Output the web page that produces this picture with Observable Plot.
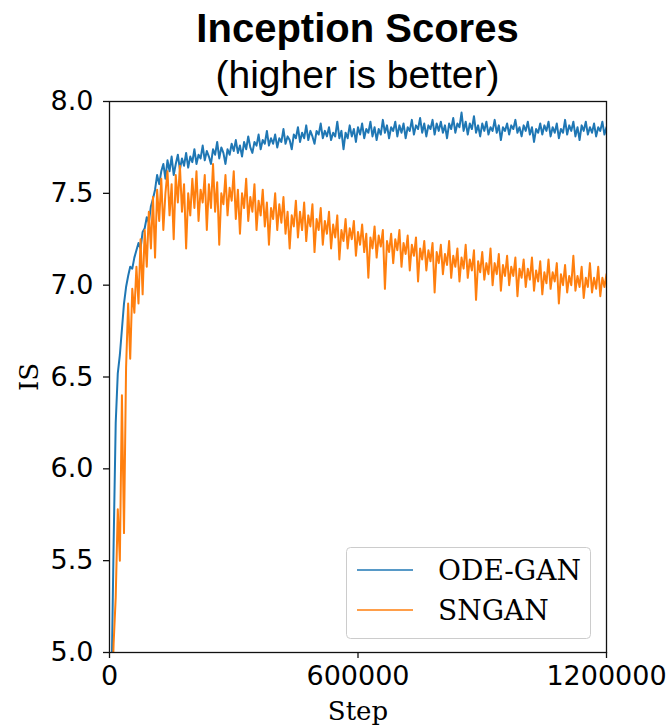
<!DOCTYPE html>
<html>
<head>
<meta charset="utf-8">
<script src="https://cdn.jsdelivr.net/npm/d3@7"></script>
<script src="https://cdn.jsdelivr.net/npm/@observablehq/plot@0.6"></script>
<style>
  html, body { margin: 0; padding: 0; background: #fff; }
  #page { position: relative; width: 669px; height: 725px; overflow: hidden; background: #fff; }
  #titles { position: relative; width: 669px; height: 88px; }
  .t { position: absolute; left: 46px; width: 623px; text-align: center; font-family: "Liberation Sans", Arial, sans-serif; line-height: 1; color: #000; white-space: nowrap; }
  #t1 { top: 8px; font-size: 40px; font-weight: bold; }
  #t2 { top: 55px; font-size: 39px; }
  #chart svg { display: block; }
  #legend { position: absolute; left: 346px; top: 547px; }
</style>
</head>
<body>
<div id="page">
  <div id="titles">
    <div class="t" id="t1"></div>
    <div class="t" id="t2"></div>
  </div>
  <div id="chart"></div>
  <div id="legend"></div>
</div>
<script>
// ---- Data ----
const titleText = "Inception Scores";
const subtitleText = "(higher is better)";
const xLabel = "Step";
const yLabel = "IS";
const seriesNames = ["ODE-GAN", "SNGAN"];
const seriesColors = ["#1f77b4", "#ff7f0e"];
const stepInterval = 5000; // evaluation every 5000 steps, first at 5000
const xTicks = [0, 600000, 1200000];
const yTicks = [5.0, 5.5, 6.0, 6.5, 7.0, 7.5, 8.0];

const odeGan = [
  4.85, 5.6, 6.25, 6.52, 6.62, 6.76, 6.9, 6.99, 7.05, 7.1,
  7.09, 7.15, 7.19, 7.23, 7.2, 7.29, 7.31, 7.37, 7.34, 7.43,
  7.47, 7.52, 7.6, 7.55, 7.62, 7.66, 7.58, 7.68, 7.62, 7.7,
  7.6, 7.66, 7.71, 7.63, 7.69, 7.65, 7.72, 7.64, 7.7, 7.67,
  7.74, 7.66, 7.71, 7.69, 7.76, 7.68, 7.73, 7.7, 7.66, 7.74,
  7.71, 7.78, 7.69, 7.75, 7.72, 7.66, 7.74, 7.71, 7.77, 7.73,
  7.79, 7.72, 7.76, 7.7, 7.78, 7.74, 7.81, 7.75, 7.72, 7.78,
  7.76, 7.82, 7.74, 7.79, 7.77, 7.84, 7.76, 7.8, 7.77, 7.82,
  7.75, 7.8, 7.78, 7.85, 7.77, 7.81, 7.79, 7.74, 7.82, 7.8,
  7.86, 7.78, 7.83, 7.8, 7.87, 7.79, 7.84, 7.81, 7.77, 7.84,
  7.82, 7.88, 7.8, 7.84, 7.81, 7.86, 7.79, 7.83, 7.81, 7.89,
  7.8, 7.84, 7.74, 7.83, 7.8, 7.87, 7.81, 7.85, 7.78, 7.86,
  7.82, 7.88, 7.8, 7.85, 7.83, 7.89, 7.81, 7.86, 7.79, 7.85,
  7.82, 7.9, 7.83, 7.87, 7.8, 7.86, 7.84, 7.89, 7.81, 7.87,
  7.83, 7.88, 7.8, 7.86, 7.84, 7.9, 7.82, 7.87, 7.85, 7.91,
  7.83, 7.88, 7.81, 7.87, 7.85, 7.9, 7.82, 7.88, 7.84, 7.89,
  7.83, 7.87, 7.8, 7.88, 7.85, 7.91, 7.83, 7.88, 7.86, 7.94,
  7.84, 7.89, 7.82, 7.88, 7.85, 7.92, 7.83, 7.87, 7.81, 7.88,
  7.84, 7.89, 7.82, 7.86, 7.84, 7.9, 7.83, 7.87, 7.79, 7.86,
  7.84, 7.88, 7.82, 7.87, 7.85, 7.9, 7.83, 7.86, 7.81, 7.87,
  7.84, 7.89, 7.82, 7.86, 7.78, 7.85, 7.83, 7.88, 7.82, 7.87,
  7.84, 7.89, 7.81, 7.86, 7.83, 7.88, 7.8, 7.85, 7.83, 7.9,
  7.82, 7.87, 7.84, 7.89, 7.81, 7.86, 7.79, 7.87, 7.84, 7.89,
  7.82, 7.86, 7.83, 7.88, 7.81, 7.86, 7.84, 7.89, 7.82, 7.86
];

const sngan = [
  4.7, 5.05, 5.3, 5.78, 5.5, 6.4, 5.65, 6.55, 6.9, 6.6,
  6.98, 6.85, 7.1, 6.9, 7.25, 6.95, 7.3, 7.1, 7.4, 7.2,
  7.48, 7.15, 7.52, 7.35, 7.58, 7.3, 7.5, 7.62, 7.38, 7.55,
  7.25, 7.6, 7.45, 7.65, 7.4, 7.55, 7.2, 7.5, 7.38, 7.58,
  7.42, 7.62, 7.35, 7.52, 7.45, 7.6, 7.3, 7.55, 7.42, 7.66,
  7.4, 7.56, 7.22, 7.5, 7.44, 7.6, 7.38, 7.53, 7.46, 7.62,
  7.36, 7.52, 7.28, 7.5, 7.42, 7.58, 7.35, 7.48, 7.4, 7.55,
  7.3, 7.46, 7.38, 7.52, 7.32, 7.45, 7.22, 7.42, 7.36, 7.5,
  7.3, 7.44, 7.34, 7.48, 7.28, 7.4, 7.2, 7.38, 7.32, 7.46,
  7.26, 7.4, 7.3, 7.45, 7.24, 7.38, 7.32, 7.44, 7.18, 7.36,
  7.3, 7.42, 7.22, 7.35, 7.28, 7.4, 7.2, 7.33, 7.26, 7.38,
  7.14, 7.3, 7.24, 7.36, 7.2, 7.31, 7.25, 7.35, 7.16, 7.29,
  7.22, 7.33, 7.18, 7.28, 7.04, 7.26, 7.2, 7.32, 7.15, 7.27,
  7.21, 7.3, 6.98, 7.24, 7.18, 7.28, 7.12, 7.25, 7.19, 7.3,
  7.1, 7.23, 7.17, 7.27, 7.08, 7.22, 7.16, 7.26, 7.02, 7.2,
  7.14, 7.24, 7.08, 7.19, 7.13, 7.23, 6.96, 7.18, 7.12, 7.22,
  7.06, 7.17, 7.11, 7.24, 7.04, 7.16, 7.1, 7.2, 7.02, 7.15,
  7.09, 7.22, 7.04, 7.14, 7.08, 7.19, 6.92, 7.13, 7.07, 7.18,
  7.03, 7.12, 7.06, 7.2, 7.0, 7.12, 7.06, 7.17, 6.97, 7.11,
  7.05, 7.16, 7.0, 7.1, 7.05, 7.15, 6.94, 7.09, 7.04, 7.14,
  6.99, 7.09, 7.03, 7.15, 6.97, 7.08, 7.02, 7.13, 6.95, 7.07,
  7.01, 7.14, 6.98, 7.07, 7.02, 7.12, 6.9, 7.06, 7.0, 7.11,
  6.96, 7.05, 7.0, 7.16, 6.97, 7.05, 6.99, 7.1, 6.93, 7.04,
  6.99, 7.12, 6.96, 7.04, 6.98, 7.1, 6.94, 7.04, 6.99, 7.06
];

// ---- Build tidy table ----
const seriesValues = [odeGan, sngan];
const rows = [];
seriesValues.forEach((vals, k) => {
  vals.forEach((v, i) => rows.push({ model: seriesNames[k], step: stepInterval * (i + 1), is: v }));
});

// ---- Titles ----
document.getElementById("t1").textContent = titleText;
document.getElementById("t2").textContent = subtitleText;

// ---- Chart ----
const serif = "'DejaVu Serif', serif";
const chart = Plot.plot({
  width: 669,
  height: 637,
  marginTop: 13,
  marginLeft: 109,
  marginRight: 63,
  marginBottom: 73,
  style: { fontFamily: "'DejaVu Sans', sans-serif", fontSize: "27px", color: "#000", background: "#fff", overflow: "visible" },
  x: { domain: [0, 1200000] },
  y: { domain: [5, 8] },
  color: { domain: seriesNames, range: seriesColors },
  marks: [
    Plot.line(rows, { x: "step", y: "is", z: "model", stroke: "model", strokeWidth: 2, clip: true }),
    Plot.frame({ stroke: "#111", strokeWidth: 1.3 }),
    Plot.axisX({ anchor: "bottom", ticks: xTicks, tickFormat: d3.format("d"), tickSize: 6, tickPadding: 7, label: null, stroke: "#111", strokeWidth: 1.3 }),
    Plot.axisY({ anchor: "left", ticks: yTicks, tickFormat: d3.format(".1f"), tickSize: 6, tickPadding: 10, label: null, stroke: "#111", strokeWidth: 1.3 }),
    Plot.text([yLabel], { text: d => d, frameAnchor: "left", dx: -80, rotate: -90, textAnchor: "middle", lineAnchor: "middle", fontFamily: serif, fontSize: 26, fill: "#000" }),
    Plot.text([xLabel], { text: d => d, frameAnchor: "bottom", dy: 59, textAnchor: "middle", lineAnchor: "middle", fontFamily: serif, fontSize: 26, fill: "#000" })
  ]
});
document.getElementById("chart").appendChild(chart);

// ---- Legend ----
const lg = d3.select("#legend").append("svg").attr("width", 246).attr("height", 93);
lg.append("rect").attr("x", 0.5).attr("y", 0.5).attr("width", 244).attr("height", 91)
  .attr("rx", 4).attr("fill", "#fff").attr("fill-opacity", 0.8).attr("stroke", "#cccccc");
seriesNames.forEach((name, k) => {
  const cy = 23 + k * 40;
  lg.append("line").attr("x1", 11).attr("x2", 67).attr("y1", cy).attr("y2", cy)
    .attr("stroke", seriesColors[k]).attr("stroke-width", 1.5);
  lg.append("text").attr("x", 92).attr("y", cy + 10).attr("font-family", serif)
    .attr("font-size", 28).attr("fill", "#000").text(name);
});
</script>
</body>
</html>
